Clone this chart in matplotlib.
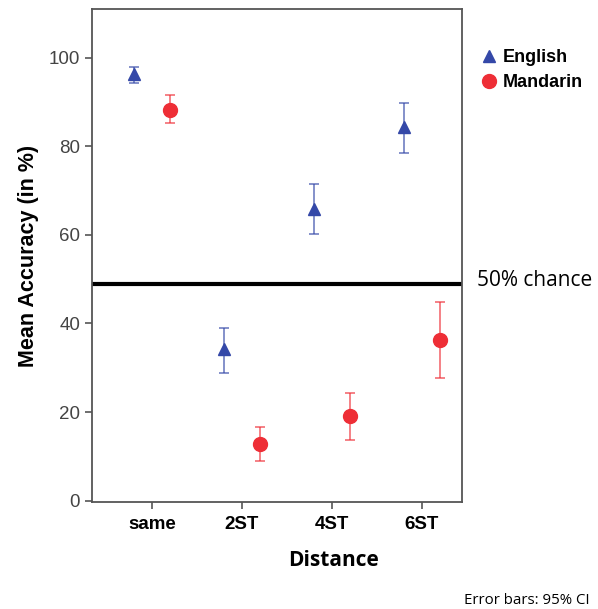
import matplotlib.pyplot as plt
import numpy as np

# Data
categories = ['same', '2ST', '4ST', '6ST']
english_mean = [96.4, 34.2, 65.8, 84.4]
english_lo = [94.4, 28.9, 60.2, 78.5]
english_hi = [98.0, 39.0, 71.6, 89.8]
mandarin_mean = [88.3, 12.7, 19.1, 36.3]
mandarin_lo = [85.2, 9.0, 13.7, 27.7]
mandarin_hi = [91.5, 16.7, 24.4, 44.8]
chance_level = 49.0

blue = '#3448a8'
red = '#ee2e36'

plt.rcParams['font.family'] = ['Liberation Sans', 'DejaVu Sans']

fig = plt.figure(figsize=(5.98, 6.09), dpi=100)
ax = fig.add_axes([92 / 598, 1 - 502 / 609, 370 / 598, 493 / 609])

x = np.arange(len(categories))
eng_err = [np.subtract(english_mean, english_lo), np.subtract(english_hi, english_mean)]
man_err = [np.subtract(mandarin_mean, mandarin_lo), np.subtract(mandarin_hi, mandarin_mean)]

ax.errorbar(x - 0.2, english_mean, yerr=eng_err, fmt='none', ecolor=blue,
            alpha=0.65, elinewidth=1.3, capsize=3.3, capthick=1.3)
ax.errorbar(x + 0.2, mandarin_mean, yerr=man_err, fmt='none', ecolor=red,
            alpha=0.65, elinewidth=1.3, capsize=3.3, capthick=1.3)
ax.plot(x - 0.2, english_mean, '^', color=blue, markersize=8, label='English')
ax.plot(x + 0.2, mandarin_mean, 'o', color=red, markersize=10, label='Mandarin')

ax.axhline(chance_level, color='black', linewidth=3)

ax.set_xlim(-0.67, 3.45)
ax.set_ylim(-0.3, 111)
ax.set_xticks(x)
ax.set_xticklabels(categories, fontsize=13.5, fontweight='bold')
ax.set_yticks([0, 20, 40, 60, 80, 100])
ax.tick_params(axis='y', labelsize=13.5, labelcolor='#444444', length=5, width=1.2, color='#555555')
ax.tick_params(axis='x', length=5, width=1.2, color='#555555', pad=5)
for s in ax.spines.values():
    s.set_color('#555555')
    s.set_linewidth(1.3)

ax.set_ylabel('Mean Accuracy (in %)', fontsize=15.5, fontweight='bold', labelpad=7)

ax.legend(loc='upper left', bbox_to_anchor=(1.0, 0.952), frameon=False,
          prop={'weight': 'bold', 'size': 13}, handletextpad=0.15,
          handlelength=1.2, labelspacing=0.45, borderaxespad=0.5)

fig.text(333 / 598, 1 - 560 / 609, 'Distance', fontsize=15, fontweight='bold', va='center',
         ha='center', family=['Open Sans', 'DejaVu Sans'])
fig.text(477 / 598, 1 - 280 / 609, '50% chance', fontsize=15, va='center', ha='left',
         family=['Open Sans', 'DejaVu Sans'])
fig.text(590 / 598, 1 - 600 / 609, 'Error bars: 95% CI', fontsize=10.8, va='center', ha='right',
         family=['Open Sans', 'DejaVu Sans'])

fig.savefig('out.png', dpi=100)
